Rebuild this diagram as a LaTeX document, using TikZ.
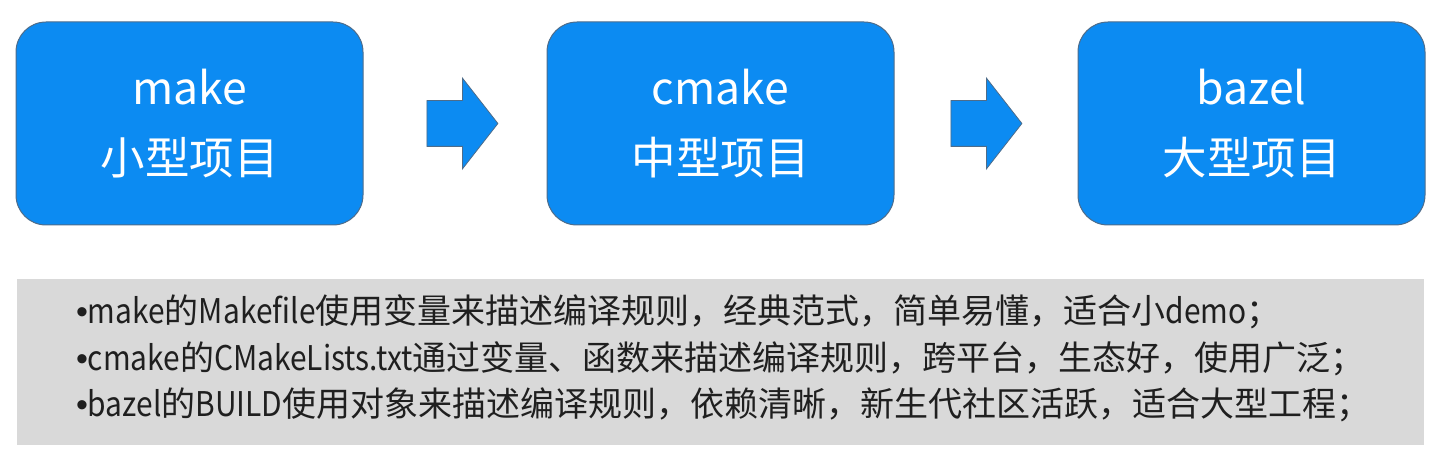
\documentclass[tikz,border=0pt]{standalone}
\usepackage{fontspec}
\usepackage{tikz}
\usetikzlibrary{positioning,calc,shapes.arrows}
\newfontfamily\cjk{Noto Sans CJK SC}
\newfontfamily\latfont[FakeStretch=0.88]{Noto Sans CJK SC}
\newfontfamily\dotfont{Liberation Sans}
\newcommand{\lat}[1]{{\latfont #1}}
\newcommand{\notedot}{{\dotfont •}}
\definecolor{toolblue}{RGB}{12,139,242}
\definecolor{tooledge}{RGB}{78,108,138}
\definecolor{notegray}{RGB}{217,217,217}
\tikzset{
  toolbox/.style={draw=tooledge, fill=toolblue, line width=1pt, rounded corners=30pt, align=center, text=white, minimum width=347pt, minimum height=203pt, inner sep=0pt, font=\cjk\fontsize{44.5}{70}\selectfont},
  flowarrow/.style={single arrow, draw=tooledge, fill=toolblue, line width=0.8pt, minimum height=71pt, inner xsep=0pt, inner ysep=22.5pt, single arrow head extend=22.5pt, single arrow tip angle=104, anchor=tail},
  notepanel/.style={fill=notegray, minimum width=1407pt, minimum height=166pt, inner sep=0pt},
  notetext/.style={align=left, inner sep=0pt, text=black!88, font=\cjk\fontsize{34}{46.5}\selectfont}
}

\begin{document}
\begin{tikzpicture}
\useasboundingbox (0,0) rectangle (1440pt,464pt);
\node[toolbox] (make) at (189.5pt,340.5pt) {make\\小型项目};
\node[toolbox, right=183pt of make] (cmake) {cmake\\中型项目};
\node[toolbox, right=183pt of cmake] (bazel) {bazel\\大型项目};
\node[flowarrow] (arr1) at ($(make.east)!0.5!(cmake.west)+(-28.5pt,0)$) {};
\node[flowarrow] (arr2) at ($(cmake.east)!0.5!(bazel.west)+(-35.5pt,0)$) {};
\node[notepanel, below=53pt of cmake] (panel) {};
\node[notetext, anchor=west] (notes) at ([xshift=59pt,yshift=3pt]panel.west) {\notedot\lat{make}的\lat{Makefile}使用变量来描述编译规则，经典范式，简单易懂，适合小\lat{demo}；\\
\notedot\lat{cmake}的\lat{CMakeLists.txt}通过变量、函数来描述编译规则，跨平台，生态好，使用广泛；\\
\notedot\lat{bazel}的\lat{BUILD}使用对象来描述编译规则，依赖清晰，新生代社区活跃，适合大型工程；};
\end{tikzpicture}
\end{document}
